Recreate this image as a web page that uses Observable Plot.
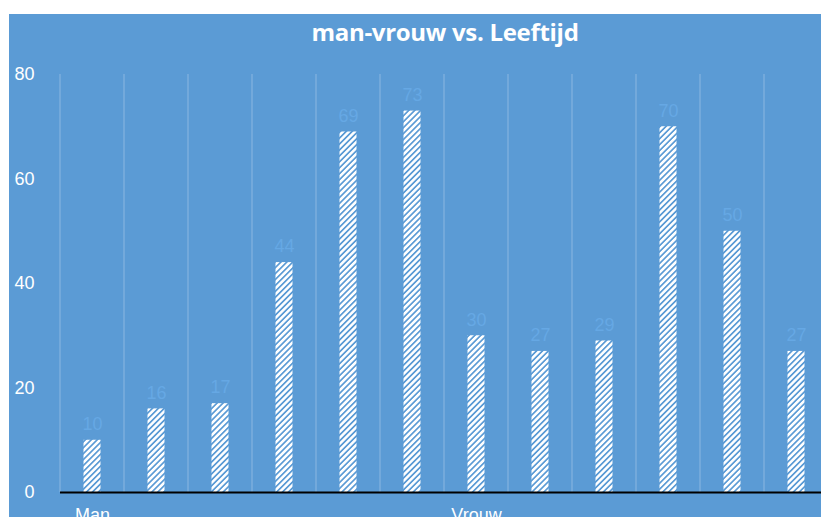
<!DOCTYPE html>
<html>
<head>
<meta charset="utf-8">
<script src="https://cdn.jsdelivr.net/npm/d3@7"></script>
<script src="https://cdn.jsdelivr.net/npm/@observablehq/plot@0.6"></script>
<style>
  html, body { margin: 0; padding: 0; background: #ffffff; width: 821px; height: 517px; overflow: hidden; }
  #panel { position: absolute; left: 9px; top: 14px; width: 812px; height: 503px; background: #5b9bd5; overflow: hidden; }
  #title { position: absolute; left: 0; top: 0; width: 872px; height: 40px; text-align: center;
           font-family: "Open Sans", sans-serif; font-weight: 700; font-size: 24px; line-height: 36px; color: #ffffff; letter-spacing: -0.3px; }
  #chart { position: absolute; left: 0; top: 40px; }
  #chart svg { max-width: none !important; }
</style>
</head>
<body>
<div id="panel">
  <div id="title">man-vrouw vs. Leeftijd</div>
  <div id="chart"></div>
</div>
<script>
// Data
const categories = ["1", "2", "3", "4", "5", "6", "7", "8", "9", "10", "11", "12"];
const xLabels = ["Man", "", "", "", "", "", "Vrouw", "", "", "", "", ""];
const values = [10, 16, 17, 44, 69, 73, 30, 27, 29, 70, 50, 27];
const yTicks = [0, 20, 40, 60, 80];

const rows = categories.map((c, i) => ({cat: c, value: values[i]}));

function gridMark(index, scales) {
  const x = scales.x, y = scales.y;
  const step = x.bandwidth ? x.bandwidth() : (x(categories[1]) - x(categories[0]));
  const pos = categories.map(c => x(c)).concat([x(categories[categories.length - 1]) + step]);
  const g = d3.create("svg:g");
  g.selectAll("line").data(pos).join("line")
    .attr("x1", d => d).attr("x2", d => d)
    .attr("y1", y(yTicks[yTicks.length - 1])).attr("y2", y(yTicks[0]))
    .attr("stroke", "#ffffff").attr("stroke-opacity", 0.3).attr("stroke-width", 1);
  return g.node();
}

const chart = Plot.plot({
  width: 835,
  height: 478,
  marginLeft: 51,
  marginRight: 16,
  marginTop: 20,
  marginBottom: 40,
  style: {background: "transparent", color: "#ffffff", fontFamily: "'Liberation Sans', Arial, sans-serif", fontSize: "18px", maxWidth: "none"},
  x: {domain: categories, padding: 0, tickSize: 0, tickPadding: 16, tickFormat: (d) => xLabels[categories.indexOf(d)], label: null},
  y: {domain: [0, 80], ticks: yTicks, tickSize: 0, tickPadding: 26, label: null},
  marks: [
    gridMark,
    Plot.barY(rows, {x: "cat", y: "value", fill: "url(#hatch)", insetLeft: 23.5, insetRight: 23.5}),
    Plot.text(rows, {x: "cat", y: "value", text: d => String(d.value), dy: -16, fill: "#66a8e4", fontSize: 18}),
    Plot.ruleY([0], {stroke: "#000000", strokeWidth: 2})
  ]
});

d3.select(chart).insert("defs", ":first-child").html(
  '<pattern id="hatch" patternUnits="userSpaceOnUse" width="4.2" height="4.2" patternTransform="rotate(45)">' +
  '<rect x="0" y="0" width="2.5" height="4.2" fill="#ffffff"></rect></pattern>'
);

document.getElementById("chart").appendChild(chart);
</script>
</body>
</html>
